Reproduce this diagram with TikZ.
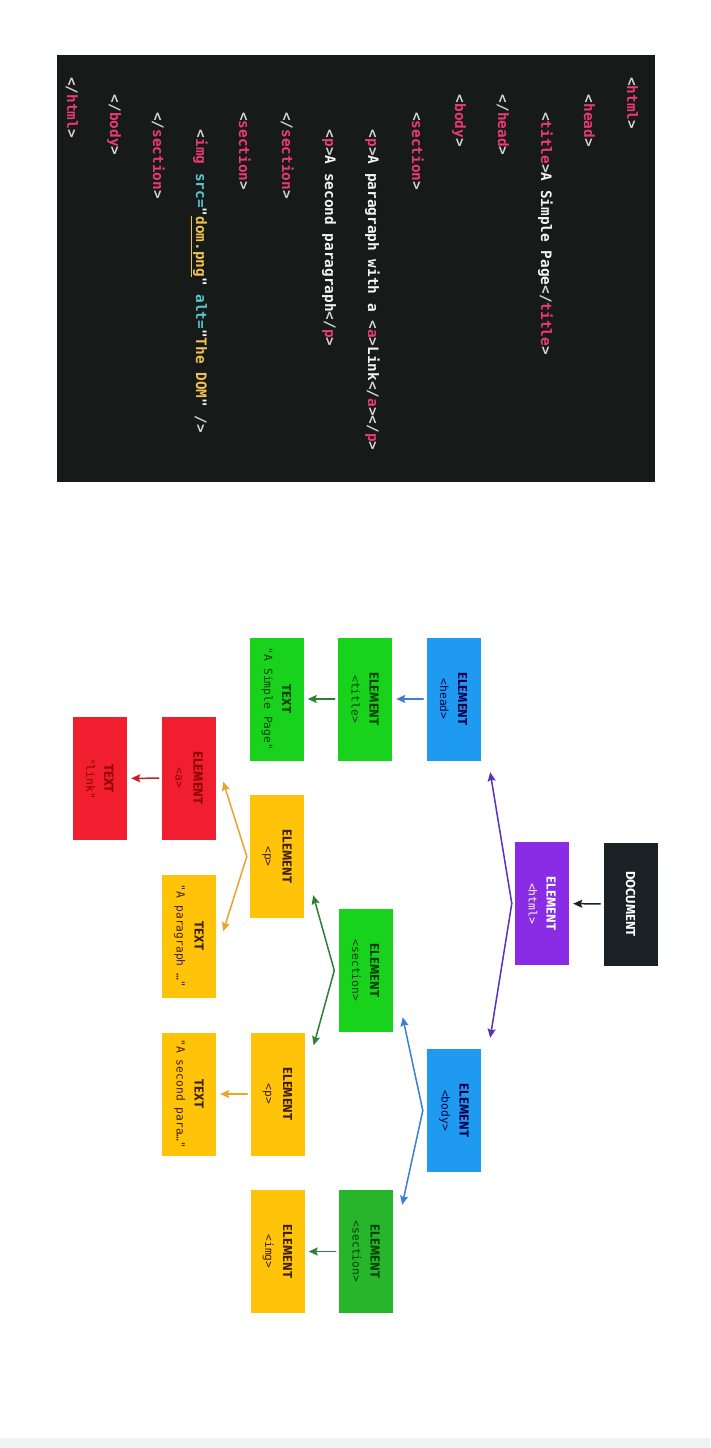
\documentclass[tikz,border=0pt]{standalone}
\usepackage{fontspec}
\setsansfont{Fira Sans}
\setmonofont{DejaVu Sans Mono}
\usepackage{xcolor}
\usepackage{tikz}
\usetikzlibrary{arrows.meta,calc,positioning}
\definecolor{domInk}{HTML}{1B2226}
\definecolor{domPurple}{HTML}{8A2BE6}
\definecolor{domBlue}{HTML}{1E9AF0}
\definecolor{domGreen}{HTML}{18D21C}
\definecolor{domGreenDark}{HTML}{27B52C}
\definecolor{domYellow}{HTML}{FFC30A}
\definecolor{domRed}{HTML}{F01E2E}
\definecolor{domPage}{HTML}{EEF2F0}
\definecolor{codeBg}{HTML}{161A19}
\definecolor{codeTag}{HTML}{EC3A74}
\definecolor{codeBr}{HTML}{D6D6D6}
\definecolor{codeAttr}{HTML}{56C8D2}
\definecolor{codeStr}{HTML}{F2C14E}
\definecolor{codeText}{HTML}{F5F5F5}
\definecolor{linkPurple}{HTML}{5A30C0}
\definecolor{linkBlue}{HTML}{3A7FD2}
\definecolor{linkGreen}{HTML}{2E8038}
\definecolor{linkOrange}{HTML}{EBA32C}
\definecolor{linkRed}{HTML}{C81E2C}
\newcommand{\elem}[2]{{\sffamily\bfseries #1}\\{\ttfamily\fontsize{11.3}{18}\selectfont #2}}
\newcommand{\otag}[1]{\textcolor{codeBr}{<}\textcolor{codeTag}{#1}\textcolor{codeBr}{>}}
\newcommand{\ctag}[1]{\textcolor{codeBr}{</}\textcolor{codeTag}{#1}\textcolor{codeBr}{>}}
\tikzset{
  dom diagram/.style={x=1pt, y=1pt, line cap=round, line join=round},
  dom box/.style={minimum width=123pt, minimum height=54pt, inner sep=0pt,
    align=center, font=\fontsize{13}{18}\selectfont},
  dom doc/.style={dom box, fill=domInk, text=white},
  dom html/.style={dom box, fill=domPurple, text=white},
  dom blue/.style={dom box, fill=domBlue, text=black!70!blue},
  dom green/.style={dom box, fill=domGreen, text=black!75!green},
  dom green dark/.style={dom box, fill=domGreenDark, text=black!75!green},
  dom yellow/.style={dom box, fill=domYellow, text=black!75!orange},
  dom red/.style={dom box, fill=domRed, text=black!45!red},
  dom arrow/.style={-{Stealth[length=9pt,width=8pt,inset=1.5pt]}, line width=1.5pt},
  dom link/.style={dom arrow, shorten <=3pt, shorten >=4pt},
  code line/.style={anchor=base west, inner sep=0pt, text=codeText,
    font=\ttfamily\bfseries\fontsize{14.4}{17}\selectfont}
}

\begin{document}
\begin{tikzpicture}[dom diagram]
\begin{scope}[rotate=-90, transform shape]
% page and code panel
\fill[white] (0,0) rectangle (1448,710);
\fill[domPage] (1438,0) rectangle (1448,710);
\fill[codeBg] (55,57) rectangle (482,655);

\node[code line] (c1) at (77,627) {\otag{html}};
\node[code line] (c2) at (94.5,584) {\otag{head}};
\node[code line] (c3) at (112,541) {\otag{title}A Simple Page\ctag{title}};
\node[code line] (c4) at (94.5,498) {\ctag{head}};
\node[code line] (c5) at (94.5,455) {\otag{body}};
\node[code line] (c6) at (112,412) {\otag{section}};
\node[code line] (c7) at (129.5,368) {\otag{p}A paragraph with a \otag{a}Link\ctag{a}\ctag{p}};
\node[code line] (c8) at (129.5,325) {\otag{p}A second paragraph\ctag{p}};
\node[code line] (c9) at (112,282) {\ctag{section}};
\node[code line] (c10) at (112,239) {\otag{section}};
\node[code line] (c11) at (129.5,196) {\textcolor{codeBr}{<}\textcolor{codeTag}{img}
  \textcolor{codeAttr}{src=}"\textcolor{codeStr}{\underline{dom.png}}"
  \textcolor{codeAttr}{alt=}"\textcolor{codeStr}{The DOM}"
  \textcolor{codeBr}{/>}};
\node[code line] (c12) at (112,153) {\ctag{section}};
\node[code line] (c13) at (94.5,110) {\ctag{body}};
\node[code line] (c14) at (77,67) {\ctag{html}};

% DOM tree
\node[dom doc] (doc) at (904,630.5) {\sffamily\bfseries DOCUMENT};
\node[dom html] (html) at (903.5,542) {\elem{ELEMENT}{<html>}};
\node[dom blue] (head) at (699,453.5) {\elem{ELEMENT}{<head>}};
\node[dom blue] (body) at (1110.5,454) {\elem{ELEMENT}{<body>}};
\node[dom green] (title) at (699,365) {\elem{ELEMENT}{<title>}};
\node[dom green] (titletext) at (699,276.5) {\elem{TEXT}{"A Simple Page"}};
\node[dom green] (sectiona) at (970.5,365.5) {\elem{ELEMENT}{<section>}};
\node[dom green dark] (sectionb) at (1251.5,366) {\elem{ELEMENT}{<section>}};
\node[dom yellow] (pa) at (856.5,277) {\elem{ELEMENT}{<p>}};
\node[dom yellow] (pb) at (1094,277.5) {\elem{ELEMENT}{<p>}};
\node[dom yellow] (img) at (1251.5,277.5) {\elem{ELEMENT}{<img>}};
\node[dom red] (anchor) at (778,189) {\elem{ELEMENT}{<a>}};
\node[dom yellow] (patext) at (936,189) {\elem{TEXT}{"A paragraph …"}};
\node[dom yellow] (pbtext) at (1094,189) {\elem{TEXT}{"A second para…"}};
\node[dom red] (linktext) at (778.5,100) {\elem{TEXT}{"link"}};

% fork points
\coordinate (htmlfork) at ($(html.south)+(0,-3)$);
\coordinate (bodyfork) at ($(body.south)+(0,-4)$);
\coordinate (sectionfork) at ($(sectiona.south)+(0,-4)$);
\coordinate (pfork) at ($(pa.south)+(0,-3)$);

\draw[dom link, draw=domInk] (doc) -- (html);
\draw[dom arrow, draw=linkPurple] (htmlfork) -- ($(head.north east)+(11.5,9.5)$);
\draw[dom arrow, draw=linkPurple] (htmlfork) -- ($(body.north west)+(-11,9)$);
\draw[dom link, draw=linkBlue] (head) -- (title);
\draw[dom link, draw=linkGreen] (title) -- (titletext);
\draw[dom arrow, draw=linkBlue] (bodyfork) -- ($(sectiona.north east)+(-15,10)$);
\draw[dom arrow, draw=linkBlue] (bodyfork) -- ($(sectionb.north west)+(15,9)$);
\draw[dom arrow, draw=linkGreen] (sectionfork) -- ($(pa.north east)+(-23,9)$);
\draw[dom arrow, draw=linkGreen] (sectionfork) -- ($(pb.north west)+(13,9)$);
\draw[dom arrow, draw=linkOrange] (pfork) -- ($(anchor.north east)+(-58,7)$);
\draw[dom arrow, draw=linkOrange] (pfork) -- ($(patext.north west)+(57,7)$);
\draw[dom link, draw=linkRed] (anchor) -- (linktext);
\draw[dom link, draw=linkOrange] (pb) -- (pbtext);
\draw[dom link, draw=linkGreen] (sectionb) -- (img);
\end{scope}
\end{tikzpicture}
\end{document}
